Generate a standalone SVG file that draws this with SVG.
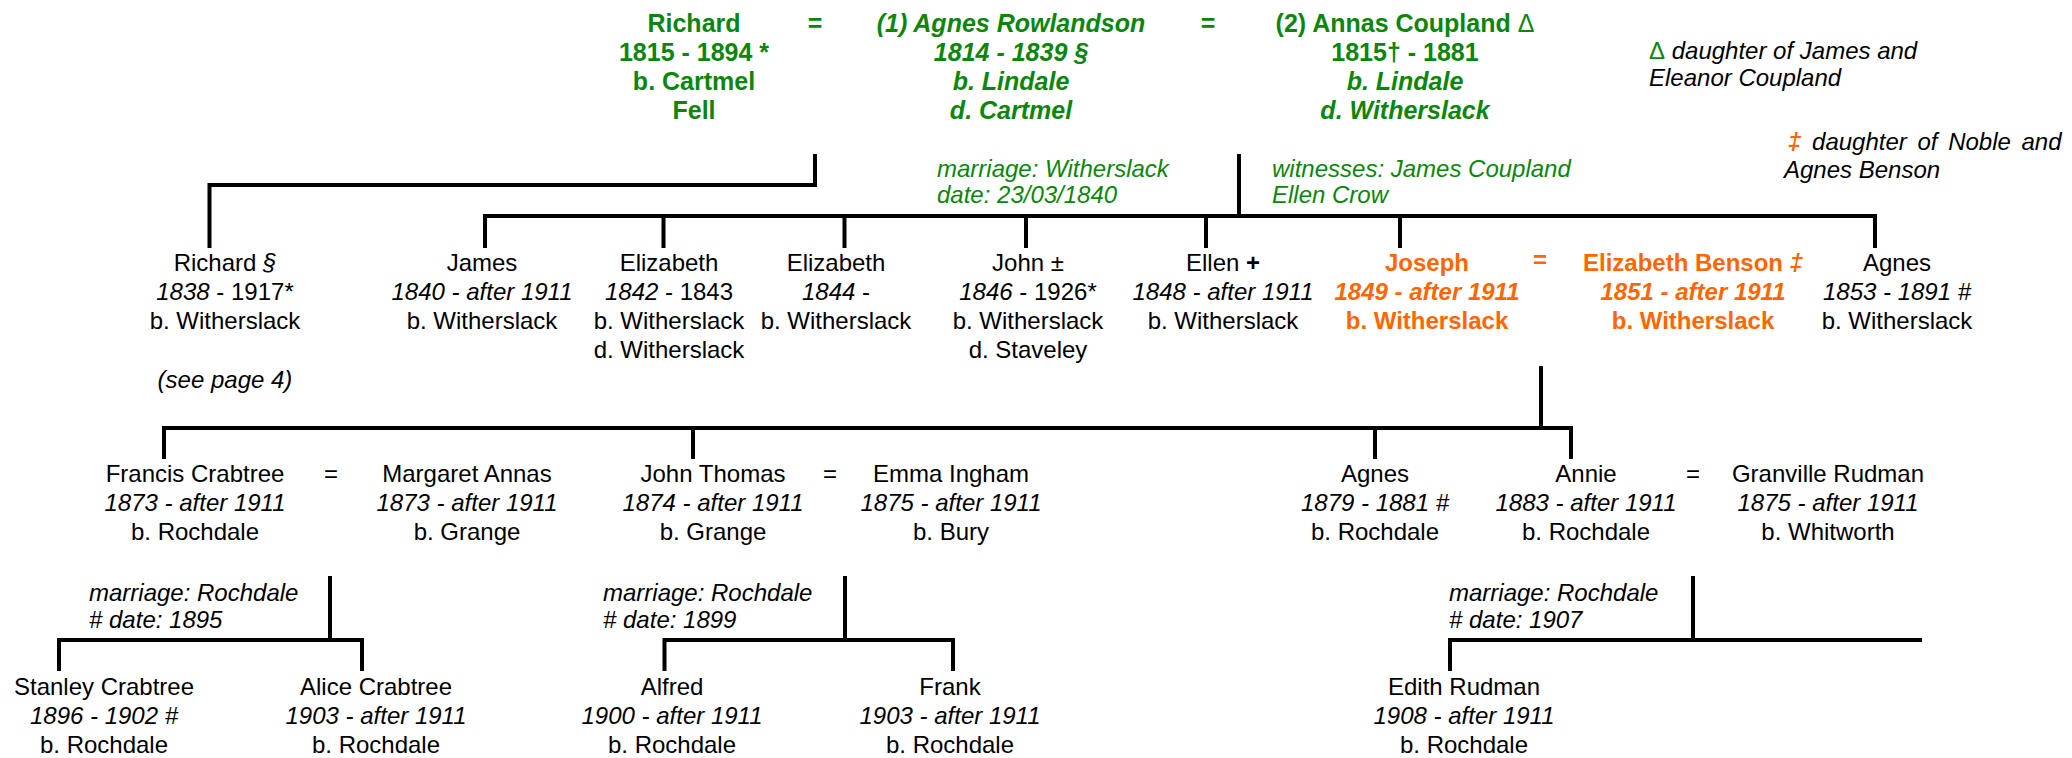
<svg xmlns="http://www.w3.org/2000/svg" width="2072" height="758" viewBox="0 0 2072 758">
<style>
text{font-family:"Liberation Sans",Arial,sans-serif;font-size:24px;fill:#000;text-anchor:middle}
.i{font-style:italic}
.b{font-weight:bold}
.big{font-size:25px}
.g{fill:#0a870a}
.o{fill:#ff6600}
.s{text-anchor:start}
.c path{stroke:#000;stroke-width:4;fill:none;stroke-linecap:square}
</style>
<rect width="2072" height="758" fill="#fff"/>
<g class="c" id="connectors">
<path d="M815 156V185H209.5V246"/>
<path d="M1239 156V216"/>
<path d="M485 246V216H1875V246M663.5 216V246M844.5 216V246M1026 216V246M1206 216V246M1400 216V246"/>
<path d="M1541 368V428"/>
<path d="M164 457V428H1571V457M693 428V457M1375 428V457"/>
<path d="M330 578V640"/>
<path d="M59 669V640H362V669"/>
<path d="M845 578V640"/>
<path d="M664.5 669V640H953V669"/>
<path d="M1693 578V640"/>
<path d="M1450 669V640H1920"/>
</g>
<g id="richard-sr">
<text class="b big g" x="694" y="32">Richard</text>
<text class="b big g" x="694" y="61">1815 - 1894 *</text>
<text class="b big g" x="694" y="90">b. Cartmel</text>
<text class="b big g" x="694" y="119">Fell</text>
</g>
<text class="b big g" x="815" y="32">=</text>
<g id="agnes-rowlandson">
<text class="b i big g" x="1011" y="32">(1) Agnes Rowlandson</text>
<text class="b i big g" x="1011" y="61">1814 - 1839 §</text>
<text class="b i big g" x="1011" y="90">b. Lindale</text>
<text class="b i big g" x="1011" y="119">d. Cartmel</text>
</g>
<text class="b big g" x="1208" y="32">=</text>
<g id="annas-coupland">
<text class="b big g" x="1405" y="32">(2) Annas Coupland <tspan font-weight="normal">Δ</tspan></text>
<text class="b big g" x="1405" y="61">1815† - 1881</text>
<text class="b i big g" x="1405" y="90">b. Lindale</text>
<text class="b i big g" x="1405" y="119">d. Witherslack</text>
</g>
<g id="note-delta">
<text class="s i" x="1649" y="59"><tspan class="g" font-style="normal">Δ</tspan> daughter of James and</text>
<text class="s i" x="1649" y="86">Eleanor Coupland</text>
</g>
<g id="note-ddagger">
<text class="s i" x="1788" y="150" word-spacing="4"><tspan class="o b">‡</tspan> daughter of Noble and</text>
<text class="s i" x="1784" y="178">Agnes Benson</text>
</g>
<g id="marriage-1840">
<text class="s i g" x="937" y="177">marriage: Witherslack</text>
<text class="s i g" x="937" y="203">date: 23/03/1840</text>
</g>
<g id="witnesses">
<text class="s i g" x="1272" y="177">witnesses: James Coupland</text>
<text class="s i g" x="1272" y="203">Ellen Crow</text>
</g>
<g id="richard-jr">
<text x="225" y="271">Richard <tspan class="i">§</tspan></text>
<text x="225" y="300"><tspan class="i">1838</tspan> - 1917*</text>
<text x="225" y="329">b. Witherslack</text>
<text class="i" x="225" y="388">(see page 4)</text>
</g>
<g id="james">
<text x="482" y="271">James</text>
<text class="i" x="482" y="300">1840 - after 1911</text>
<text x="482" y="329">b. Witherslack</text>
</g>
<g id="elizabeth-1842">
<text x="669" y="271">Elizabeth</text>
<text x="669" y="300"><tspan class="i">1842</tspan> - 1843</text>
<text x="669" y="329">b. Witherslack</text>
<text x="669" y="358">d. Witherslack</text>
</g>
<g id="elizabeth-1844">
<text x="836" y="271">Elizabeth</text>
<text x="836" y="300"><tspan class="i">1844</tspan> -</text>
<text x="836" y="329">b. Witherslack</text>
</g>
<g id="john">
<text x="1028" y="271">John ±</text>
<text x="1028" y="300"><tspan class="i">1846</tspan> - 1926*</text>
<text x="1028" y="329">b. Witherslack</text>
<text x="1028" y="358">d. Staveley</text>
</g>
<g id="ellen">
<text x="1223" y="271">Ellen <tspan class="b">+</tspan></text>
<text class="i" x="1223" y="300">1848 - after 1911</text>
<text x="1223" y="329">b. Witherslack</text>
</g>
<g id="joseph">
<text class="b o" x="1427" y="271">Joseph</text>
<text class="b i o" x="1427" y="300">1849 - after 1911</text>
<text class="b o" x="1427" y="329">b. Witherslack</text>
</g>
<text class="b o" x="1540" y="268">=</text>
<g id="elizabeth-benson">
<text class="b o" x="1693" y="271">Elizabeth Benson <tspan class="i">‡</tspan></text>
<text class="b i o" x="1693" y="300">1851 - after 1911</text>
<text class="b o" x="1693" y="329">b. Witherslack</text>
</g>
<g id="agnes-1853">
<text x="1897" y="271">Agnes</text>
<text class="i" x="1897" y="300">1853 - 1891 #</text>
<text x="1897" y="329">b. Witherslack</text>
</g>
<g id="francis">
<text x="195" y="482">Francis Crabtree</text>
<text class="i" x="195" y="511">1873 - after 1911</text>
<text x="195" y="540">b. Rochdale</text>
</g>
<text x="331" y="482">=</text>
<g id="margaret">
<text x="467" y="482">Margaret Annas</text>
<text class="i" x="467" y="511">1873 - after 1911</text>
<text x="467" y="540">b. Grange</text>
</g>
<g id="john-thomas">
<text x="713" y="482">John Thomas</text>
<text class="i" x="713" y="511">1874 - after 1911</text>
<text x="713" y="540">b. Grange</text>
</g>
<text x="830" y="482">=</text>
<g id="emma">
<text x="951" y="482">Emma Ingham</text>
<text class="i" x="951" y="511">1875 - after 1911</text>
<text x="951" y="540">b. Bury</text>
</g>
<g id="agnes-1879">
<text x="1375" y="482">Agnes</text>
<text class="i" x="1375" y="511">1879 - 1881 #</text>
<text x="1375" y="540">b. Rochdale</text>
</g>
<g id="annie">
<text x="1586" y="482">Annie</text>
<text class="i" x="1586" y="511">1883 - after 1911</text>
<text x="1586" y="540">b. Rochdale</text>
</g>
<text x="1693" y="482">=</text>
<g id="granville">
<text x="1828" y="482">Granville Rudman</text>
<text class="i" x="1828" y="511">1875 - after 1911</text>
<text x="1828" y="540">b. Whitworth</text>
</g>
<g id="marriage-1895">
<text class="s i" x="89" y="601">marriage: Rochdale</text>
<text class="s i" x="89" y="628"># date: 1895</text>
</g>
<g id="marriage-1899">
<text class="s i" x="603" y="601">marriage: Rochdale</text>
<text class="s i" x="603" y="628"># date: 1899</text>
</g>
<g id="marriage-1907">
<text class="s i" x="1449" y="601">marriage: Rochdale</text>
<text class="s i" x="1449" y="628"># date: 1907</text>
</g>
<g id="stanley">
<text x="104" y="695">Stanley Crabtree</text>
<text class="i" x="104" y="724">1896 - 1902 #</text>
<text x="104" y="753">b. Rochdale</text>
</g>
<g id="alice">
<text x="376" y="695">Alice Crabtree</text>
<text class="i" x="376" y="724">1903 - after 1911</text>
<text x="376" y="753">b. Rochdale</text>
</g>
<g id="alfred">
<text x="672" y="695">Alfred</text>
<text class="i" x="672" y="724">1900 - after 1911</text>
<text x="672" y="753">b. Rochdale</text>
</g>
<g id="frank">
<text x="950" y="695">Frank</text>
<text class="i" x="950" y="724">1903 - after 1911</text>
<text x="950" y="753">b. Rochdale</text>
</g>
<g id="edith">
<text x="1464" y="695">Edith Rudman</text>
<text class="i" x="1464" y="724">1908 - after 1911</text>
<text x="1464" y="753">b. Rochdale</text>
</g>
</svg>
